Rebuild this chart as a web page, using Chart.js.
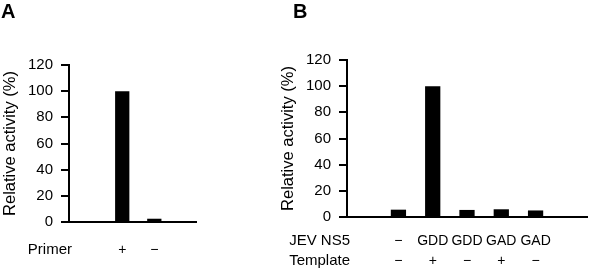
<!DOCTYPE html>
<html>
<head>
<meta charset="utf-8">
<script src="https://cdn.jsdelivr.net/npm/chart.js@4.4.1/dist/chart.umd.min.js"></script>
<style>
  body { margin: 0; background: #fff; }
  #fig { position: relative; width: 600px; height: 271px; font-family: 'Liberation Sans', Arial, sans-serif; color: #000; }
  .panel-letter { position: absolute; top: 1px; font-weight: bold; font-size: 20px; line-height: 20px; }
  .chart-box { position: absolute; top: 0; height: 271px; }
</style>
</head>
<body>
<div id="fig">
  <div class="chart-box" style="left:0; width:250px"><canvas id="chart-a" width="250" height="271"></canvas></div>
  <div class="chart-box" style="left:250px; width:350px"><canvas id="chart-b" width="350" height="271"></canvas></div>
  <div class="panel-letter" style="left:1px">A</div>
  <div class="panel-letter" style="left:293px">B</div>
</div>
<script>
// Panel A
const primerRowNames = ['Primer'];
const primerLabels = ['+', '−'];
const primerActivity = [100, 2.5];

// Panel B
const ns5RowNames = ['JEV NS5', 'Template'];
const ns5Labels = ['−', 'GDD', 'GDD', 'GAD', 'GAD'];
const templateLabels = ['−', '+', '−', '+', '−'];
const ns5Activity = [5.6, 100, 5.4, 5.9, 5.0];

const yMin = 0, yMax = 120, yStep = 20;

const FONT = "'Liberation Sans', Arial, sans-serif";
const LABEL_SIZE = 14, ROW_NAME_SIZE = 15, LABEL_LINE = 20;

// row captions ("Primer", "JEV NS5", ...) to the left of the category labels
const rowNamePlugin = {
  id: 'rowNames',
  afterDraw(chart, args, opts) {
    const { ctx, chartArea } = chart;
    const pad = chart.scales.x.options.ticks.padding;
    ctx.save();
    ctx.font = `${ROW_NAME_SIZE}px ${FONT}`;
    ctx.fillStyle = '#000';
    ctx.textAlign = 'right';
    ctx.textBaseline = 'middle';
    opts.names.forEach((name, i) => {
      ctx.fillText(name, chartArea.left + 3, chartArea.bottom + pad + LABEL_LINE * (i + 0.5));
    });
    ctx.restore();
  }
};

function makeChart(id, rowNames, rows, values, cfg) {
  const points = values.map((v, i) => ({ x: i + 1, y: v }));
  const canvas = document.getElementById(id);
  return new Chart(canvas, {
    type: 'bar',
    data: {
      datasets: [{
        data: points,
        backgroundColor: '#000',
        borderWidth: 0,
        categoryPercentage: 1,
        barPercentage: 0.445,
      }],
    },
    options: {
      responsive: false,
      animation: false,
      layout: { padding: { left: cfg.padLeft, right: cfg.padRight, top: cfg.padTop, bottom: 0 } },
      plugins: {
        legend: { display: false },
        tooltip: { enabled: false },
        rowNames: { names: rowNames },
      },
      scales: {
        x: {
          type: 'linear',
          min: 0,
          max: cfg.xMax,
          grid: { display: false, drawTicks: false },
          border: { color: '#000', width: 2 },
          ticks: {
            stepSize: 1,
            includeBounds: false,
            autoSkip: false,
            maxRotation: 0,
            padding: cfg.labelPad,
            color: '#000',
            font: { family: FONT, size: LABEL_SIZE, lineHeight: LABEL_LINE / LABEL_SIZE },
            callback: v => {
              const i = v - 1;
              if (i < 0 || i >= rows[0].length) return '';
              return rows.length > 1 ? rows.map(r => r[i]) : rows[0][i];
            },
          },
          afterFit: s => { s.height = canvas.height - cfg.bottom; },
        },
        y: {
          min: yMin,
          max: yMax,
          ticks: { stepSize: yStep, padding: 8, color: '#000', font: { family: FONT, size: 15 } },
          grid: { drawOnChartArea: false, color: '#000', lineWidth: 2, tickLength: 8 },
          border: { color: '#000', width: 2 },
          title: {
            display: true,
            text: 'Relative activity (%)',
            color: '#000',
            padding: 0,
            font: { family: FONT, size: 16.5, lineHeight: 1.1 },
          },
          afterFit: s => { s.width = 68; },
        },
      },
    },
    plugins: [rowNamePlugin],
  });
}

makeChart('chart-a', primerRowNames, [primerLabels], primerActivity,
  { padLeft: 1, padRight: 54, padTop: 65, bottom: 222, xMax: 2.64, labelPad: 18 });
makeChart('chart-b', ns5RowNames, [ns5Labels, templateLabels], ns5Activity,
  { padLeft: 29, padRight: 13, padTop: 60, bottom: 217, xMax: 6, labelPad: 14 });
</script>
</body>
</html>
